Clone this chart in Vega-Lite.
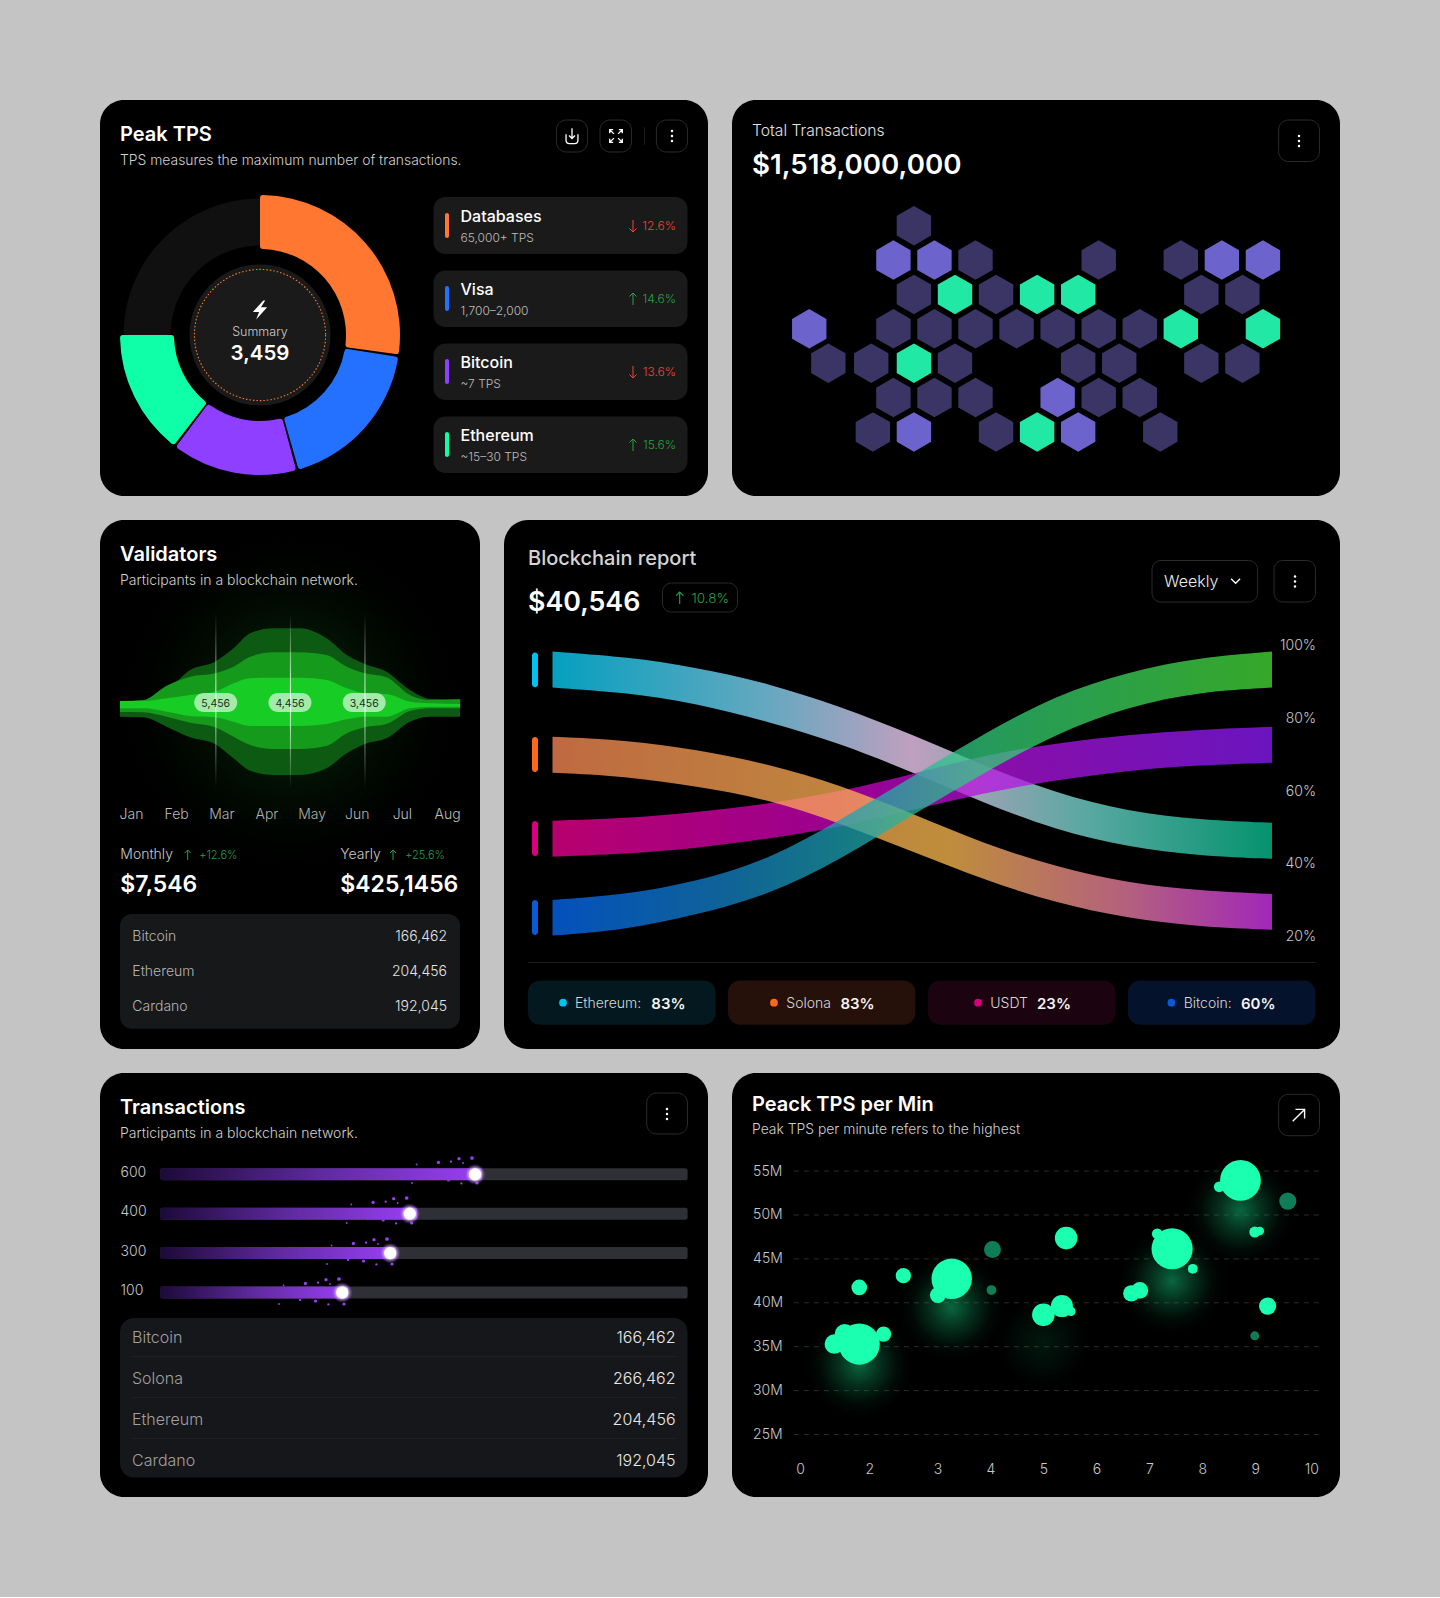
{
"$schema":"https://vega.github.io/schema/vega-lite/v6.json",
"background":"#c4c4c4",
"padding":{"left":100,"top":100,"right":100,"bottom":100},
"spacing":24,
"resolve":{"scale":{"color":"independent","size":"independent","theta":"independent","radius":"independent"}},
"config":{"view":{"stroke":null},"font":"Inter","text":{"baseline":"alphabetic","align":"left","font":"Inter"},"point":{"opacity":1},"circle":{"opacity":1},
"axis":{"grid":false,"domain":false,"ticks":false,"title":null,"labelFont":"Inter","labelFontWeight":400}},
"vconcat":[
{"resolve":{"scale":{"color":"independent","size":"independent","theta":"independent","radius":"independent"}},"hconcat":[
{"width":608,"height":396,"view":{"fill":"#000","cornerRadius":24,"stroke":null},
"encoding":{"x":{"field":"gx","type":"quantitative","scale":{"domain":[0,608]},"axis":null},"y":{"field":"gy","type":"quantitative","scale":{"domain":[396,0]},"axis":null}},
"layer":[
{"data":{"values":[
{"segment":"Track","gx":160,"gy":235,"start":270,"end":360,"outer":136.5,"inner":89.5},
{"segment":"Databases","gx":160,"gy":235,"start":0,"end":98,"outer":140,"inner":86},
{"segment":"Visa","gx":160,"gy":235,"start":99,"end":164,"outer":140,"inner":86},
{"segment":"Bitcoin","gx":160,"gy":235,"start":165,"end":217,"outer":140,"inner":86},
{"segment":"Ethereum","gx":160,"gy":235,"start":218,"end":270,"outer":140,"inner":86}]},
"mark":{"type":"arc","cornerRadius":3},
"encoding":{"theta":{"field":"start","type":"quantitative","stack":null,"scale":{"domain":[0,360],"range":[0,6.2832]}},"theta2":{"field":"end"},
"radius":{"field":"outer","type":"quantitative","scale":{"type":"linear","domain":[0,140],"range":[0,140]}},"radius2":{"field":"inner"},
"color":{"field":"segment","type":"nominal","legend":null,"scale":{"domain":["Track","Databases","Visa","Bitcoin","Ethereum"],"range":["#101010","#ff7730","#2470ff","#8f3fff","#0effa8"]}}}},
{"data":{"values":[{"gx":160,"gy":235}]},"mark":{"type":"point","shape":"circle","filled":true,"fill":"#1a1a1a","stroke":null,"size":19881}},
{"data":{"values":[{"gx":160,"gy":235}]},"mark":{"type":"point","shape":"circle","filled":false,"stroke":"#ff7a30","strokeWidth":1.1,"strokeDash":[1.5,2],"size":17213}},
{"data":{"values":[{"gx":160,"gy":210}]},"mark":{"type":"point","filled":true,"fill":"#fff","stroke":null,"size":361,"shape":"M0.35,-1 L-0.75,0.2 L-0.1,0.2 L-0.4,1 L0.75,-0.3 L0.1,-0.3 L0.55,-1 Z"}},
{"data":{"values":[{"t":"Summary","gx":160,"gy":235.7}]},"mark":{"type":"text","align":"center","fontSize":12.5,"color":"#cfcfcf","fontWeight":300},"encoding":{"text":{"field":"t"}}},
{"data":{"values":[{"t":"3,459","gx":160,"gy":260}]},"mark":{"type":"text","align":"center","fontSize":20.5,"fontWeight":600,"color":"#fff"},"encoding":{"text":{"field":"t"}}},
{"data":{"values":[{"t":"Peak TPS","gx":20,"gy":40.7}]},"mark":{"type":"text","fontSize":20,"fontWeight":600,"color":"#fff"},"encoding":{"text":{"field":"t"}}},
{"data":{"values":[{"t":"TPS measures the maximum number of transactions.","gx":20,"gy":65}]},"mark":{"type":"text","fontSize":13.9,"fontWeight":300,"color":"#d0d0d0"},"encoding":{"text":{"field":"t"}}},
{"data":{"values":[{"gx":456.4,"gx2":487.5,"gy":20,"gy2":52},{"gx":500,"gx2":531.5,"gy":20,"gy2":52},{"gx":556.4,"gx2":587.5,"gy":20,"gy2":52}]},"mark":{"type":"rect","fill":"#000","stroke":"#2a2a2a","strokeWidth":1,"cornerRadius":10},"encoding":{"x2":{"field":"gx2"},"y2":{"field":"gy2"}}},
{"data":{"values":[{"gx":544,"gx2":544.8,"gy":27,"gy2":45}]},"mark":{"type":"rect","fill":"#222"},"encoding":{"x2":{"field":"gx2"},"y2":{"field":"gy2"}}},
{"data":{"values":[{"gx":472,"gy":36}]},"mark":{"type":"point","filled":false,"stroke":"#fff","strokeWidth":1.3,"size":289,"shape":"M-0.7,-0.2 L-0.7,0.5 Q-0.7,0.9 -0.3,0.9 L0.3,0.9 Q0.7,0.9 0.7,0.5 L0.7,-0.2 M0,-0.9 L0,0.3 M-0.35,-0.05 L0,0.3 L0.35,-0.05"}},
{"data":{"values":[{"gx":516,"gy":36}]},"mark":{"type":"point","filled":false,"stroke":"#fff","strokeWidth":1.3,"size":196,"shape":"M-0.9,-0.4 L-0.9,-0.9 L-0.4,-0.9 M-0.9,-0.9 L-0.3,-0.3 M0.9,-0.4 L0.9,-0.9 L0.4,-0.9 M0.9,-0.9 L0.3,-0.3 M-0.9,0.4 L-0.9,0.9 L-0.4,0.9 M-0.9,0.9 L-0.3,0.3 M0.9,0.4 L0.9,0.9 L0.4,0.9 M0.9,0.9 L0.3,0.3"}},
{"data":{"values":[{"gx":572,"gy":31},{"gx":572,"gy":36},{"gx":572,"gy":41}]},"mark":{"type":"point","shape":"circle","filled":true,"fill":"#fff","stroke":null,"size":6}},
{"data":{"values":[{"gx":333.5,"gx2":587.5,"gy":97,"gy2":154},{"gx":333.5,"gx2":587.5,"gy":170.5,"gy2":227},{"gx":333.5,"gx2":587.5,"gy":243.5,"gy2":300},{"gx":333.5,"gx2":587.5,"gy":316.5,"gy2":373}]},"mark":{"type":"rect","fill":"#1a1a1a","cornerRadius":12},"encoding":{"x2":{"field":"gx2"},"y2":{"field":"gy2"}}},
{"data":{"values":[{"segment":"Databases","gx":345,"gx2":349,"gy":113,"gy2":138},{"segment":"Visa","gx":345,"gx2":349,"gy":186,"gy2":211},{"segment":"Bitcoin","gx":345,"gx2":349,"gy":259,"gy2":284},{"segment":"Ethereum","gx":345,"gx2":349,"gy":332,"gy2":357}]},"mark":{"type":"rect","cornerRadius":2},"encoding":{"x2":{"field":"gx2"},"y2":{"field":"gy2"},"color":{"field":"segment","type":"nominal","legend":null,"scale":{"domain":["Track","Databases","Visa","Bitcoin","Ethereum"],"range":["#101010","#ff7730","#2470ff","#8f3fff","#0effa8"]}}}},
{"data":{"values":[{"t":"Databases","gx":360.5,"gy":121.7},{"t":"Visa","gx":360.5,"gy":194.7},{"t":"Bitcoin","gx":360.5,"gy":267.7},{"t":"Ethereum","gx":360.5,"gy":340.7}]},"mark":{"type":"text","fontSize":16,"fontWeight":500,"color":"#fff"},"encoding":{"text":{"field":"t"}}},
{"data":{"values":[{"t":"65,000+ TPS","gx":360.5,"gy":141.7},{"t":"1,700–2,000","gx":360.5,"gy":214.7},{"t":"~7 TPS","gx":360.5,"gy":287.7},{"t":"~15–30 TPS","gx":360.5,"gy":360.7}]},"mark":{"type":"text","fontSize":12,"fontWeight":300,"color":"#bdbdbd"},"encoding":{"text":{"field":"t"}}},
{"data":{"values":[{"t":"12.6%","gx":576,"gy":130},{"t":"13.6%","gx":576,"gy":276}]},"mark":{"type":"text","align":"right","fontSize":12,"fontWeight":300,"color":"#f0453a"},"encoding":{"text":{"field":"t"}}},
{"data":{"values":[{"t":"14.6%","gx":576,"gy":203},{"t":"15.6%","gx":576,"gy":349}]},"mark":{"type":"text","align":"right","fontSize":12,"fontWeight":300,"color":"#26a146"},"encoding":{"text":{"field":"t"}}},
{"data":{"values":[{"gx":533,"gy":126},{"gx":533,"gy":272}]},"mark":{"type":"point","filled":false,"stroke":"#f0453a","strokeWidth":1,"size":144,"shape":"M0,-1 L0,1 M-0.6,0.4 L0,1 L0.6,0.4"}},
{"data":{"values":[{"gx":533,"gy":199},{"gx":533,"gy":345}]},"mark":{"type":"point","filled":false,"stroke":"#26a146","strokeWidth":1,"size":144,"shape":"M0,1 L0,-1 M-0.6,-0.4 L0,-1 L0.6,-0.4"}}
]},
{"width":608,"height":396,"view":{"fill":"#000","cornerRadius":24,"stroke":null},"resolve":{"scale":{"x":"independent","y":"independent"}},
"layer":[
{"encoding":{"x":{"field":"gx","type":"quantitative","scale":{"domain":[0,608]},"axis":null},"y":{"field":"gy","type":"quantitative","scale":{"domain":[396,0]},"axis":null}},
"layer":[
{"data":{"values":[{"t":"Total Transactions","gx":20,"gy":35.7}]},"mark":{"type":"text","fontSize":15.7,"fontWeight":300,"color":"#e0e0e0"},"encoding":{"text":{"field":"t"}}},
{"data":{"values":[{"t":"$1,518,000,000","gx":20,"gy":73.5}]},"mark":{"type":"text","fontSize":27.7,"fontWeight":600,"color":"#fff"},"encoding":{"text":{"field":"t"}}},
{"data":{"values":[{"gx":546.6,"gx2":587.5,"gy":20,"gy2":61.5}]},"mark":{"type":"rect","fill":"#000","stroke":"#2a2a2a","strokeWidth":1,"cornerRadius":10},"encoding":{"x2":{"field":"gx2"},"y2":{"field":"gy2"}}},
{"data":{"values":[{"gx":567,"gy":36},{"gx":567,"gy":41},{"gx":567,"gy":46}]},"mark":{"type":"point","shape":"circle","filled":true,"fill":"#fff","stroke":null,"size":6}}
]},
{"data":{"values":[
{"col":1,"row":0,"state":"idle"},
{"col":0,"row":1,"state":"active"},{"col":2,"row":1,"state":"active"},{"col":4,"row":1,"state":"idle"},{"col":10,"row":1,"state":"idle"},{"col":14,"row":1,"state":"idle"},{"col":16,"row":1,"state":"active"},{"col":18,"row":1,"state":"active"},
{"col":1,"row":2,"state":"idle"},{"col":3,"row":2,"state":"peak"},{"col":5,"row":2,"state":"idle"},{"col":7,"row":2,"state":"peak"},{"col":9,"row":2,"state":"peak"},{"col":15,"row":2,"state":"idle"},{"col":17,"row":2,"state":"idle"},
{"col":-4.1,"row":3,"state":"active"},{"col":0,"row":3,"state":"idle"},{"col":2,"row":3,"state":"idle"},{"col":4,"row":3,"state":"idle"},{"col":6,"row":3,"state":"idle"},{"col":8,"row":3,"state":"idle"},{"col":10,"row":3,"state":"idle"},{"col":12,"row":3,"state":"idle"},{"col":14,"row":3,"state":"peak"},{"col":18,"row":3,"state":"peak"},
{"col":-3.17,"row":4,"state":"idle"},{"col":-1.08,"row":4,"state":"idle"},{"col":1,"row":4,"state":"peak"},{"col":3,"row":4,"state":"idle"},{"col":9,"row":4,"state":"idle"},{"col":11,"row":4,"state":"idle"},{"col":15,"row":4,"state":"idle"},{"col":17,"row":4,"state":"idle"},
{"col":0,"row":5,"state":"idle"},{"col":2,"row":5,"state":"idle"},{"col":4,"row":5,"state":"idle"},{"col":8,"row":5,"state":"active"},{"col":10,"row":5,"state":"idle"},{"col":12,"row":5,"state":"idle"},
{"col":-1,"row":6,"state":"idle"},{"col":1,"row":6,"state":"active"},{"col":5,"row":6,"state":"idle"},{"col":7,"row":6,"state":"peak"},{"col":9,"row":6,"state":"active"},{"col":13,"row":6,"state":"idle"}]},
"mark":{"type":"point","filled":true,"stroke":null,"size":1552,"shape":"M0,-1 L0.873,-0.5 L0.873,0.5 L0,1 L-0.873,0.5 L-0.873,-0.5 Z"},
"encoding":{"x":{"field":"col","type":"quantitative","scale":{"domain":[-7.862,21.754]},"axis":null},"y":{"field":"row","type":"quantitative","scale":{"domain":[7.864,-3.657]},"axis":null},
"color":{"field":"state","type":"nominal","legend":null,"scale":{"domain":["idle","active","peak"],"range":["#3a3565","#6c63cc","#22e8a5"]}}}}
]}
],"spacing":24},
{"resolve":{"scale":{"color":"independent","size":"independent","theta":"independent","radius":"independent"}},"hconcat":[
{"width":380,"height":529,"view":{"fill":"#000","cornerRadius":24,"stroke":null},"resolve":{"scale":{"x":"independent","y":"independent"}},
"layer":[
{"encoding":{"x":{"field":"gx","type":"quantitative","scale":{"domain":[0,380]},"axis":null},"y":{"field":"gy","type":"quantitative","scale":{"domain":[529,0]},"axis":null}},
"layer":[
{"data":{"values":[{"gx":190,"gy":182}]},"mark":{"type":"point","shape":"circle","filled":true,"stroke":null,"size":108900,"fill":{"gradient":"radial","x1":0.5,"y1":0.5,"r1":0,"x2":0.5,"y2":0.5,"r2":0.5,"stops":[{"offset":0,"color":"rgba(20,130,30,0.42)"},{"offset":0.5,"color":"rgba(15,95,20,0.16)"},{"offset":1,"color":"rgba(0,40,0,0)"}]}}},
{"data":{"values":[{"t":"Validators","gx":20,"gy":40.7}]},"mark":{"type":"text","fontSize":20,"fontWeight":600,"color":"#fff"},"encoding":{"text":{"field":"t"}}},
{"data":{"values":[{"t":"Participants in a blockchain network.","gx":20,"gy":65}]},"mark":{"type":"text","fontSize":14,"fontWeight":300,"color":"#d0d0d0"},"encoding":{"text":{"field":"t"}}},
{"data":{"values":[{"t":"Monthly","gx":20.3,"gy":339},{"t":"Yearly","gx":240.3,"gy":339}]},"mark":{"type":"text","fontSize":14,"fontWeight":300,"color":"#c8c8c8"},"encoding":{"text":{"field":"t"}}},
{"data":{"values":[{"t":"+12.6%","gx":99.3,"gy":339},{"t":"+25.6%","gx":305.3,"gy":339}]},"mark":{"type":"text","fontSize":11,"fontWeight":300,"color":"#26a146"},"encoding":{"text":{"field":"t"}}},
{"data":{"values":[{"gx":87.7,"gy":335},{"gx":293,"gy":335}]},"mark":{"type":"point","filled":false,"stroke":"#26a146","strokeWidth":1,"size":100,"shape":"M0,1 L0,-1 M-0.6,-0.4 L0,-1 L0.6,-0.4"}},
{"data":{"values":[{"t":"$7,546","gx":20.3,"gy":371.7},{"t":"$425,1456","gx":240.3,"gy":371.7}]},"mark":{"type":"text","fontSize":23,"fontWeight":600,"color":"#fff"},"encoding":{"text":{"field":"t"}}},
{"data":{"values":[{"gx":20,"gx2":360,"gy":394,"gy2":508.7}]},"mark":{"type":"rect","fill":"#17181a","cornerRadius":12},"encoding":{"x2":{"field":"gx2"},"y2":{"field":"gy2"}}},
{"data":{"values":[{"t":"Bitcoin","gx":32.3,"gy":421},{"t":"Ethereum","gx":32.3,"gy":456},{"t":"Cardano","gx":32.3,"gy":491}]},"mark":{"type":"text","fontSize":14,"fontWeight":300,"color":"#b5b5b5"},"encoding":{"text":{"field":"t"}}},
{"data":{"values":[{"t":"166,462","gx":347,"gy":421},{"t":"204,456","gx":347,"gy":456},{"t":"192,045","gx":347,"gy":491}]},"mark":{"type":"text","align":"right","fontSize":14,"fontWeight":300,"color":"#e4e4e4"},"encoding":{"text":{"field":"t"}}}
]},
{"encoding":{"x":{"field":"month","type":"quantitative","scale":{"domain":[0.313,8.731]},"axis":{"orient":"bottom","offset":-235,"values":[1,2,3,4,5,6,7,8],"labelExpr":"['Jan','Feb','Mar','Apr','May','Jun','Jul','Aug'][datum.value-1]","labelFontSize":14,"labelFontWeight":300,"labelColor":"#bdbdbd","labelPadding":0,"labelBaseline":"middle"}}},
"layer":[
{"data":{"values":[
{"band":"Outer","month":0.756,"high":181,"low":196.7},{"band":"Outer","month":1.27,"high":180.7,"low":197.3},{"band":"Outer","month":1.79,"high":170.7,"low":206.7},{"band":"Outer","month":2.31,"high":150,"low":217.3},{"band":"Outer","month":2.86,"high":141.7,"low":224},{"band":"Outer","month":3.27,"high":128.3,"low":238.3},{"band":"Outer","month":3.64,"high":113.3,"low":250.7},{"band":"Outer","month":4.15,"high":108.3,"low":255},{"band":"Outer","month":4.74,"high":108.3,"low":255},{"band":"Outer","month":5.33,"high":118.3,"low":248.3},{"band":"Outer","month":5.78,"high":135,"low":233.3},{"band":"Outer","month":6.18,"high":144,"low":224},{"band":"Outer","month":6.66,"high":151.7,"low":218.3},{"band":"Outer","month":7.18,"high":170,"low":201.7},{"band":"Outer","month":7.62,"high":178.7,"low":196.7},{"band":"Outer","month":8.29,"high":179.3,"low":196.7},
{"band":"Middle","month":0.756,"high":181,"low":192},{"band":"Middle","month":1.27,"high":180,"low":192.3},{"band":"Middle","month":1.79,"high":165.7,"low":196.7},{"band":"Middle","month":2.31,"high":156.7,"low":202.7},{"band":"Middle","month":2.86,"high":153.3,"low":207.3},{"band":"Middle","month":3.27,"high":146.7,"low":216.7},{"band":"Middle","month":3.64,"high":136.7,"low":225},{"band":"Middle","month":4.15,"high":132.3,"low":229},{"band":"Middle","month":4.74,"high":132.3,"low":229},{"band":"Middle","month":5.33,"high":135,"low":226},{"band":"Middle","month":5.78,"high":146.7,"low":213.3},{"band":"Middle","month":6.18,"high":153.3,"low":207.3},{"band":"Middle","month":6.66,"high":157.3,"low":204},{"band":"Middle","month":7.18,"high":175,"low":191},{"band":"Middle","month":7.62,"high":180,"low":188.3},{"band":"Middle","month":8.29,"high":179.3,"low":188.3},
{"band":"Core","month":0.756,"high":181,"low":188.3},{"band":"Core","month":1.27,"high":181,"low":188.3},{"band":"Core","month":1.79,"high":178.3,"low":191.7},{"band":"Core","month":2.31,"high":175,"low":196},{"band":"Core","month":2.86,"high":171.7,"low":197.3},{"band":"Core","month":3.27,"high":163.3,"low":201.7},{"band":"Core","month":3.64,"high":158.3,"low":206},{"band":"Core","month":4.15,"high":157.7,"low":206},{"band":"Core","month":4.74,"high":157.7,"low":206},{"band":"Core","month":5.33,"high":160,"low":204},{"band":"Core","month":5.78,"high":168.3,"low":199.3},{"band":"Core","month":6.18,"high":173.3,"low":196.7},{"band":"Core","month":6.66,"high":174,"low":196.7},{"band":"Core","month":7.18,"high":181.7,"low":188.3},{"band":"Core","month":7.62,"high":183.3,"low":186.7},{"band":"Core","month":8.29,"high":184,"low":186.7}]},
"mark":{"type":"area","interpolate":"monotone","opacity":1},
"encoding":{"y":{"field":"high","type":"quantitative","stack":null,"scale":{"domain":[529,0]},"axis":null},"y2":{"field":"low"},
"color":{"field":"band","type":"nominal","legend":null,"scale":{"domain":["Outer","Middle","Core"],"range":["#0d5a12","#159a1c","#18cc26"]}}}},
{"data":{"values":[{"month":2.86,"monthEnd":2.895,"gy":93,"gy2":268},{"month":6.165,"monthEnd":6.2,"gy":93,"gy2":268}]},
"mark":{"type":"rect","fill":{"gradient":"linear","x1":0,"y1":0,"x2":0,"y2":1,"stops":[{"offset":0,"color":"rgba(255,255,255,0)"},{"offset":0.5,"color":"rgba(255,255,255,0.6)"},{"offset":1,"color":"rgba(255,255,255,0)"}]}},
"encoding":{"x2":{"field":"monthEnd"},"y":{"field":"gy","type":"quantitative","scale":{"domain":[529,0]},"axis":null},"y2":{"field":"gy2"}}},
{"data":{"values":[{"month":4.52,"monthEnd":4.545,"gy":93,"gy2":268}]},
"mark":{"type":"rect","fill":{"gradient":"linear","x1":0,"y1":0,"x2":0,"y2":1,"stops":[{"offset":0,"color":"rgba(255,255,255,0)"},{"offset":0.5,"color":"rgba(255,255,255,0.95)"},{"offset":1,"color":"rgba(255,255,255,0)"}]}},
"encoding":{"x2":{"field":"monthEnd"},"y":{"field":"gy","type":"quantitative","scale":{"domain":[529,0]},"axis":null},"y2":{"field":"gy2"}}},
{"data":{"values":[{"month":2.4,"monthEnd":3.352,"gy":173,"gy2":192},{"month":4.045,"monthEnd":4.997,"gy":173,"gy2":192},{"month":5.69,"monthEnd":6.642,"gy":173,"gy2":192}]},
"mark":{"type":"rect","fill":"rgba(255,255,255,0.6)","cornerRadius":9.5},
"encoding":{"x2":{"field":"monthEnd"},"y":{"field":"gy","type":"quantitative","scale":{"domain":[529,0]},"axis":null},"y2":{"field":"gy2"}}},
{"data":{"values":[{"t":"5,456","month":2.876,"gy":186.5},{"t":"4,456","month":4.521,"gy":186.5},{"t":"3,456","month":6.166,"gy":186.5}]},
"mark":{"type":"text","align":"center","fontSize":10.5,"fontWeight":400,"color":"#1d2b1f"},
"encoding":{"y":{"field":"gy","type":"quantitative","scale":{"domain":[529,0]},"axis":null},"text":{"field":"t"}}}
]}
]},
{"width":836,"height":529,"view":{"fill":"#000","cornerRadius":24,"stroke":null},"resolve":{"scale":{"x":"independent","y":"independent"}},
"layer":[
{"encoding":{"x":{"field":"gx","type":"quantitative","scale":{"domain":[0,836]},"axis":null},"y":{"field":"gy","type":"quantitative","scale":{"domain":[529,0]},"axis":null}},
"layer":[
{"data":{"values":[{"t":"Blockchain report","gx":24,"gy":44.7}]},"mark":{"type":"text","fontSize":20,"fontWeight":500,"color":"#d4d4d4"},"encoding":{"text":{"field":"t"}}},
{"data":{"values":[{"t":"$40,546","gx":24,"gy":90.6}]},"mark":{"type":"text","fontSize":26.8,"fontWeight":600,"color":"#fff"},"encoding":{"text":{"field":"t"}}},
{"data":{"values":[{"gx":158.5,"gx2":233.5,"gy":63,"gy2":92},{"gx":648,"gx2":753.6,"gy":40.5,"gy2":82},{"gx":770,"gx2":811.5,"gy":40.5,"gy2":82}]},"mark":{"type":"rect","fill":"#000","stroke":"#2a2a2a","strokeWidth":1,"cornerRadius":9},"encoding":{"x2":{"field":"gx2"},"y2":{"field":"gy2"}}},
{"data":{"values":[{"t":"10.8%","gx":187.5,"gy":83}]},"mark":{"type":"text","fontSize":13.5,"fontWeight":300,"color":"#26a146"},"encoding":{"text":{"field":"t"}}},
{"data":{"values":[{"gx":175.7,"gy":78}]},"mark":{"type":"point","filled":false,"stroke":"#26a146","strokeWidth":1.1,"size":144,"shape":"M0,1 L0,-1 M-0.6,-0.4 L0,-1 L0.6,-0.4"}},
{"data":{"values":[{"t":"Weekly","gx":660,"gy":66.5}]},"mark":{"type":"text","fontSize":16,"fontWeight":300,"color":"#eee"},"encoding":{"text":{"field":"t"}}},
{"data":{"values":[{"gx":731.6,"gy":61}]},"mark":{"type":"point","filled":false,"stroke":"#fff","strokeWidth":1.3,"size":100,"shape":"M-0.9,-0.45 L0,0.45 L0.9,-0.45"}},
{"data":{"values":[{"gx":791,"gy":56.5},{"gx":791,"gy":61.5},{"gx":791,"gy":66.5}]},"mark":{"type":"point","shape":"circle","filled":true,"fill":"#fff","stroke":null,"size":6}},
{"data":{"values":[{"coin":"Ethereum","gx":28,"gx2":34,"gy":132.5,"gy2":167.3},{"coin":"Solona","gx":28,"gx2":34,"gy":217,"gy2":252},{"coin":"USDT","gx":28,"gx2":34,"gy":301,"gy2":336},{"coin":"Bitcoin","gx":28,"gx2":34,"gy":380,"gy2":415}]},"mark":{"type":"rect","cornerRadius":3},"encoding":{"x2":{"field":"gx2"},"y2":{"field":"gy2"},"color":{"field":"coin","type":"nominal","legend":null,"scale":{"domain":["Ethereum","Solona","USDT","Bitcoin"],"range":["#00c2f0","#ff6a1a","#d6007e","#0a5ad6"]}}}},
{"data":{"values":[{"gx":24,"gx2":811.5,"gy":442,"gy2":442.8}]},"mark":{"type":"rect","fill":"#2a2a2a"},"encoding":{"x2":{"field":"gx2"},"y2":{"field":"gy2"}}},
{"data":{"values":[{"gx":24,"gx2":211.6,"gy":460.4,"gy2":504.7}]},"mark":{"type":"rect","cornerRadius":12,"fill":"#03191f"},"encoding":{"x2":{"field":"gx2"},"y2":{"field":"gy2"}}},
{"data":{"values":[{"gx":224,"gx2":411.4,"gy":460.4,"gy2":504.7}]},"mark":{"type":"rect","cornerRadius":12,"fill":"#26100a"},"encoding":{"x2":{"field":"gx2"},"y2":{"field":"gy2"}}},
{"data":{"values":[{"gx":424,"gx2":611.7,"gy":460.4,"gy2":504.7}]},"mark":{"type":"rect","cornerRadius":12,"fill":"#1b0310"},"encoding":{"x2":{"field":"gx2"},"y2":{"field":"gy2"}}},
{"data":{"values":[{"gx":624,"gx2":811.5,"gy":460.4,"gy2":504.7}]},"mark":{"type":"rect","cornerRadius":12,"fill":"#04132b"},"encoding":{"x2":{"field":"gx2"},"y2":{"field":"gy2"}}},
{"data":{"values":[{"coin":"Ethereum","gx":59,"gy":482.7},{"coin":"Solona","gx":270,"gy":482.7},{"coin":"USDT","gx":474,"gy":482.7},{"coin":"Bitcoin","gx":667.4,"gy":482.7}]},"mark":{"type":"point","shape":"circle","filled":true,"stroke":null,"size":60},"encoding":{"color":{"field":"coin","type":"nominal","legend":null,"scale":{"domain":["Ethereum","Solona","USDT","Bitcoin"],"range":["#00c2f0","#ff6a1a","#ff0090","#1a70e6"]}}}},
{"data":{"values":[{"t":"Ethereum:","gx":71,"gy":488},{"t":"Solona","gx":282.3,"gy":488},{"t":"USDT","gx":486.3,"gy":488},{"t":"Bitcoin:","gx":679.7,"gy":488}]},"mark":{"type":"text","fontSize":14,"fontWeight":300,"color":"#d8d8d8"},"encoding":{"text":{"field":"t"}}},
{"data":{"values":[{"t":"83%","gx":147.3,"gy":488.5},{"t":"83%","gx":336.4,"gy":488.5},{"t":"23%","gx":533,"gy":488.5},{"t":"60%","gx":737,"gy":488.5}]},"mark":{"type":"text","fontSize":15,"fontWeight":600,"color":"#f4f4f4"},"encoding":{"text":{"field":"t"}}}
]},
{"data":{"values":[
{"coin":"Ethereum","step":0,"hi":98.4,"lo":88.5},{"coin":"Ethereum","step":1,"hi":97,"lo":87.2},{"coin":"Ethereum","step":2,"hi":94.1,"lo":84.2},{"coin":"Ethereum","step":3,"hi":89.7,"lo":79.1},{"coin":"Ethereum","step":4,"hi":83.3,"lo":73.2},{"coin":"Ethereum","step":5,"hi":75.6,"lo":65.2},{"coin":"Ethereum","step":6,"hi":67,"lo":56.7},{"coin":"Ethereum","step":7,"hi":59.4,"lo":49.3},{"coin":"Ethereum","step":8,"hi":54.4,"lo":44.6},{"coin":"Ethereum","step":9,"hi":52.1,"lo":42.2},{"coin":"Ethereum","step":10,"hi":51.3,"lo":41.4},
{"coin":"Solona","step":0,"hi":75,"lo":65.1},{"coin":"Solona","step":1,"hi":74.1,"lo":64.2},{"coin":"Solona","step":2,"hi":71.5,"lo":61.3},{"coin":"Solona","step":3,"hi":67.5,"lo":57.8},{"coin":"Solona","step":4,"hi":61.7,"lo":51.2},{"coin":"Solona","step":5,"hi":53.9,"lo":43.4},{"coin":"Solona","step":6,"hi":45.5,"lo":35.6},{"coin":"Solona","step":7,"hi":39.2,"lo":29.2},{"coin":"Solona","step":8,"hi":34.7,"lo":25},{"coin":"Solona","step":9,"hi":32.6,"lo":22.7},{"coin":"Solona","step":10,"hi":31.7,"lo":21.9},
{"coin":"USDT","step":0,"hi":51.9,"lo":42},{"coin":"USDT","step":1,"hi":52.5,"lo":42.7},{"coin":"USDT","step":2,"hi":54.2,"lo":44.3},{"coin":"USDT","step":3,"hi":56.5,"lo":46.9},{"coin":"USDT","step":4,"hi":59.9,"lo":50.1},{"coin":"USDT","step":5,"hi":64.6,"lo":54.8},{"coin":"USDT","step":6,"hi":70,"lo":59.6},{"coin":"USDT","step":7,"hi":73.2,"lo":63.1},{"coin":"USDT","step":8,"hi":75.5,"lo":65.7},{"coin":"USDT","step":9,"hi":77,"lo":67.2},{"coin":"USDT","step":10,"hi":77.7,"lo":67.8},
{"coin":"Bitcoin","step":0,"hi":30.1,"lo":20.3},{"coin":"Bitcoin","step":1,"hi":31.5,"lo":21.8},{"coin":"Bitcoin","step":2,"hi":35.1,"lo":26},{"coin":"Bitcoin","step":3,"hi":41.1,"lo":31.4},{"coin":"Bitcoin","step":4,"hi":52.1,"lo":41.1},{"coin":"Bitcoin","step":5,"hi":64,"lo":53.5},{"coin":"Bitcoin","step":6,"hi":75.9,"lo":65.1},{"coin":"Bitcoin","step":7,"hi":86.5,"lo":75.9},{"coin":"Bitcoin","step":8,"hi":92.9,"lo":83.3},{"coin":"Bitcoin","step":9,"hi":96.8,"lo":87.4},{"coin":"Bitcoin","step":10,"hi":98.4,"lo":88.5}]},
"encoding":{"x":{"field":"step","type":"quantitative","scale":{"domain":[-0.674,10.945]},"axis":null},
"y":{"field":"hi","type":"quantitative","stack":null,"scale":{"domain":[-10.9,134.6]},"axis":{"orient":"right","offset":-24.5,"values":[100,80,60,40,20],"labelExpr":"datum.value+'%'","labelAlign":"right","labelPadding":0,"labelFontSize":14,"labelFontWeight":300,"labelColor":"#c8c8c8"}},
"y2":{"field":"lo"}},
"layer":[
{"transform":[{"filter":"datum.coin=='Ethereum'"}],"mark":{"type":"area","interpolate":"basis","opacity":0.75,"fill":{"gradient":"linear","x1":0,"y1":0,"x2":1,"y2":0,"stops":[{"offset":0,"color":"#07d5ff"},{"offset":0.3,"color":"#88e0ff"},{"offset":0.5,"color":"#ffd5ff"},{"offset":0.75,"color":"#73e0d5"},{"offset":1,"color":"#07c393"}]}}},
{"transform":[{"filter":"datum.coin=='USDT'"}],"mark":{"type":"area","interpolate":"basis","opacity":0.75,"fill":{"gradient":"linear","x1":0,"y1":0,"x2":1,"y2":0,"stops":[{"offset":0,"color":"#f50093"},{"offset":0.4,"color":"#cd00c0"},{"offset":0.6,"color":"#b813e0"},{"offset":1,"color":"#8d1bff"}]}}},
{"transform":[{"filter":"datum.coin=='Solona'"}],"mark":{"type":"area","interpolate":"basis","opacity":0.75,"fill":{"gradient":"linear","x1":0,"y1":0,"x2":1,"y2":0,"stops":[{"offset":0,"color":"#ff8d58"},{"offset":0.3,"color":"#ffa954"},{"offset":0.55,"color":"#ffbc50"},{"offset":0.8,"color":"#ef80a8"},{"offset":1,"color":"#d835f5"}]}}},
{"transform":[{"filter":"datum.coin=='Bitcoin'"}],"mark":{"type":"area","interpolate":"basis","opacity":0.75,"fill":{"gradient":"linear","x1":0,"y1":0,"x2":1,"y2":0,"stops":[{"offset":0,"color":"#056bfb"},{"offset":0.25,"color":"#1485c8"},{"offset":0.45,"color":"#20abab"},{"offset":0.6,"color":"#31cd7b"},{"offset":1,"color":"#47e038"}]}}}
]}
]}
],"spacing":24},
{"resolve":{"scale":{"color":"independent","size":"independent","theta":"independent","radius":"independent"}},"hconcat":[
{"width":608,"height":424,"view":{"fill":"#000","cornerRadius":24,"stroke":null},"resolve":{"scale":{"x":"independent","y":"independent"}},
"layer":[
{"encoding":{"x":{"field":"gx","type":"quantitative","scale":{"domain":[0,608]},"axis":null},"y":{"field":"gy","type":"quantitative","scale":{"domain":[424,0]},"axis":null}},
"layer":[
{"data":{"values":[{"t":"Transactions","gx":20,"gy":40.7}]},"mark":{"type":"text","fontSize":20,"fontWeight":600,"color":"#fff"},"encoding":{"text":{"field":"t"}}},
{"data":{"values":[{"t":"Participants in a blockchain network.","gx":20,"gy":65}]},"mark":{"type":"text","fontSize":14,"fontWeight":300,"color":"#d0d0d0"},"encoding":{"text":{"field":"t"}}},
{"data":{"values":[{"gx":546.7,"gx2":587.5,"gy":20,"gy2":61}]},"mark":{"type":"rect","fill":"#000","stroke":"#2a2a2a","strokeWidth":1,"cornerRadius":10},"encoding":{"x2":{"field":"gx2"},"y2":{"field":"gy2"}}},
{"data":{"values":[{"gx":567,"gy":36},{"gx":567,"gy":41},{"gx":567,"gy":46}]},"mark":{"type":"point","shape":"circle","filled":true,"fill":"#fff","stroke":null,"size":6}},
{"data":{"values":[{"gx":20,"gx2":587.5,"gy":245,"gy2":404.4}]},"mark":{"type":"rect","fill":"#16171a","cornerRadius":14},"encoding":{"x2":{"field":"gx2"},"y2":{"field":"gy2"}}},
{"data":{"values":[{"gx":32,"gx2":576,"gy":283,"gy2":283.7},{"gx":32,"gx2":576,"gy":324,"gy2":324.7},{"gx":32,"gx2":576,"gy":365,"gy2":365.7}]},"mark":{"type":"rect","fill":"#232428"},"encoding":{"x2":{"field":"gx2"},"y2":{"field":"gy2"}}},
{"data":{"values":[{"t":"Bitcoin","gx":32,"gy":270},{"t":"Solona","gx":32,"gy":311},{"t":"Ethereum","gx":32,"gy":352},{"t":"Cardano","gx":32,"gy":393}]},"mark":{"type":"text","fontSize":16,"fontWeight":300,"color":"#a0a0a0"},"encoding":{"text":{"field":"t"}}},
{"data":{"values":[{"t":"166,462","gx":575.5,"gy":270},{"t":"266,462","gx":575.5,"gy":311},{"t":"204,456","gx":575.5,"gy":352},{"t":"192,045","gx":575.5,"gy":393}]},"mark":{"type":"text","align":"right","fontSize":16,"fontWeight":300,"color":"#e8e8e8"},"encoding":{"text":{"field":"t"}}},
{"data":{"values":[
{"gx":372,"gy":85,"m":4},{"gx":359,"gy":85.7,"m":3},{"gx":351,"gy":88.7,"m":1.5},{"gx":338.4,"gy":89.4,"m":3},{"gx":316.6,"gy":91.4,"m":1},{"gx":363,"gy":90,"m":1},{"gx":377,"gy":110,"m":3},{"gx":361.4,"gy":110.4,"m":1.5},{"gx":348.5,"gy":107,"m":3},{"gx":333,"gy":106,"m":1.5},{"gx":312,"gy":110,"m":1},
{"gx":306.7,"gy":125,"m":4},{"gx":293.7,"gy":125.7,"m":3},{"gx":285.7,"gy":128.7,"m":1.5},{"gx":273.1,"gy":129.4,"m":3},{"gx":251.3,"gy":131.4,"m":1},{"gx":297.7,"gy":130,"m":1},{"gx":311.7,"gy":150,"m":3},{"gx":296.1,"gy":150.4,"m":1.5},{"gx":283.2,"gy":147,"m":3},{"gx":267.7,"gy":146,"m":1.5},{"gx":246.7,"gy":150,"m":1},
{"gx":287,"gy":166,"m":4},{"gx":274,"gy":166.7,"m":3},{"gx":266,"gy":169.7,"m":1.5},{"gx":253.4,"gy":170.4,"m":3},{"gx":231.6,"gy":172.4,"m":1},{"gx":278,"gy":171,"m":1},{"gx":292,"gy":191,"m":3},{"gx":276.4,"gy":191.4,"m":1.5},{"gx":263.5,"gy":188,"m":3},{"gx":248,"gy":187,"m":1.5},{"gx":227,"gy":191,"m":1},
{"gx":239,"gy":206,"m":4},{"gx":226,"gy":206.7,"m":3},{"gx":218,"gy":209.7,"m":1.5},{"gx":205.4,"gy":210.4,"m":3},{"gx":183.6,"gy":212.4,"m":1},{"gx":230,"gy":211,"m":1},{"gx":244,"gy":231,"m":3},{"gx":228.4,"gy":231.4,"m":1.5},{"gx":215.5,"gy":228,"m":3},{"gx":200,"gy":227,"m":1.5},{"gx":179,"gy":231,"m":1}]},
"mark":{"type":"point","shape":"circle","filled":true,"stroke":null,"fill":"#9a3ff5"},"encoding":{"size":{"field":"m","type":"quantitative","legend":null,"scale":{"domain":[0,4],"range":[0,14]}}}}
]},
{"data":{"values":[{"label":"600","lane":0,"share":61,"knob":59.7,"full":100},{"label":"400","lane":1,"share":48.7,"knob":47.3,"full":100},{"label":"300","lane":2,"share":44.7,"knob":43.6,"full":100},{"label":"100","lane":3,"share":35.6,"knob":34.5,"full":100}]},
"encoding":{"y":{"field":"lane","type":"quantitative","scale":{"domain":[8.066,-2.447]},"axis":{"orient":"left","offset":-20,"values":[0,1,2,3],"labelExpr":"['600','400','300','100'][datum.value]","labelAlign":"left","labelPadding":0,"labelOffset":-2,"labelFontSize":14,"labelFontWeight":300,"labelColor":"#c8c8c8"}}},
"layer":[
{"mark":{"type":"bar","orient":"horizontal","size":12,"cornerRadius":2,"fill":"#2f3036"},"encoding":{"x":{"field":"full","type":"quantitative","stack":null,"scale":{"domain":[-11.44,103.87]},"axis":null}}},
{"mark":{"type":"bar","orient":"horizontal","size":12,"cornerRadius":2,"fill":{"gradient":"linear","x1":0,"y1":0,"x2":1,"y2":0,"stops":[{"offset":0,"color":"#1c0a38"},{"offset":0.5,"color":"#5f2a9e"},{"offset":1,"color":"#9a3ff5"}]}},"encoding":{"x":{"field":"share","type":"quantitative","stack":null,"scale":{"domain":[-11.44,103.87]},"axis":null}}},
{"mark":{"type":"point","shape":"circle","filled":true,"stroke":null,"size":440,"fill":{"gradient":"radial","x1":0.5,"y1":0.5,"r1":0,"x2":0.5,"y2":0.5,"r2":0.5,"stops":[{"offset":0,"color":"rgba(255,255,255,0.9)"},{"offset":0.6,"color":"rgba(235,210,255,0.7)"},{"offset":1,"color":"rgba(154,63,245,0)"}]}},"encoding":{"x":{"field":"knob","type":"quantitative","scale":{"domain":[-11.44,103.87]},"axis":null}}},
{"mark":{"type":"point","shape":"circle","filled":true,"stroke":null,"size":150,"fill":"#fff"},"encoding":{"x":{"field":"knob","type":"quantitative","scale":{"domain":[-11.44,103.87]},"axis":null}}}
]}
]},
{"width":608,"height":424,"view":{"fill":"#000","cornerRadius":24,"stroke":null},"resolve":{"scale":{"x":"independent","y":"independent"}},
"layer":[
{"encoding":{"x":{"field":"gx","type":"quantitative","scale":{"domain":[0,608]},"axis":null},"y":{"field":"gy","type":"quantitative","scale":{"domain":[424,0]},"axis":null}},
"layer":[
{"data":{"values":[{"t":"Peack TPS per  Min","gx":20,"gy":37.7}]},"mark":{"type":"text","fontSize":20,"fontWeight":600,"color":"#fff"},"encoding":{"text":{"field":"t"}}},
{"data":{"values":[{"t":"Peak TPS per minute refers to the highest","gx":20,"gy":61}]},"mark":{"type":"text","fontSize":13.9,"fontWeight":300,"color":"#d0d0d0"},"encoding":{"text":{"field":"t"}}},
{"data":{"values":[{"gx":546.6,"gx2":587.5,"gy":21.3,"gy2":62.7}]},"mark":{"type":"rect","fill":"#000","stroke":"#2a2a2a","strokeWidth":1,"cornerRadius":10},"encoding":{"x2":{"field":"gx2"},"y2":{"field":"gy2"}}},
{"data":{"values":[{"gx":567,"gy":42}]},"mark":{"type":"point","filled":false,"stroke":"#fff","strokeWidth":1.4,"size":196,"shape":"M-0.9,0.9 L0.8,-0.8 M-0.5,-0.8 L0.8,-0.8 L0.8,0.5"}}
]},
{"encoding":{"x":{"field":"minute","type":"quantitative","scale":{"domain":[-1,0,2,3,9,10,10.5],"range":[0,68,137.3,205.4,523.3,579.3,608]},"axis":{"orient":"bottom","offset":-28,"values":[0,2,3,4,5,6,7,8,9,10],"format":"d","labelPadding":0,"labelBaseline":"middle","labelFontSize":14,"labelFontWeight":300,"labelColor":"#c8c8c8"}},
"y":{"field":"tps","type":"quantitative","scale":{"domain":[17.88,66.17]},"axis":{"orient":"left","offset":-20.6,"values":[25,30,35,40,45,50,55],"labelExpr":"datum.value+'M'","labelAlign":"left","labelPadding":0,"labelFontSize":14,"labelFontWeight":300,"labelColor":"#c8c8c8"}}},
"layer":[
{"data":{"values":[{"tps":25,"minute":-0.09,"minuteEnd":10.16},{"tps":30,"minute":-0.09,"minuteEnd":10.16},{"tps":35,"minute":-0.09,"minuteEnd":10.16},{"tps":40,"minute":-0.09,"minuteEnd":10.16},{"tps":45,"minute":-0.09,"minuteEnd":10.16},{"tps":50,"minute":-0.09,"minuteEnd":10.16},{"tps":55,"minute":-0.09,"minuteEnd":10.16}]},"mark":{"type":"rule","stroke":"#2b2b2b","strokeDash":[5,5],"strokeWidth":1},"encoding":{"x2":{"field":"minuteEnd"}}},
{"data":{"values":[{"minute":1.71,"tps":33},{"minute":3.27,"tps":39.5},{"minute":7.43,"tps":42.5},{"minute":8.72,"tps":50.5}]},"mark":{"type":"point","shape":"circle","filled":true,"stroke":null,"size":11000,"fill":{"gradient":"radial","x1":0.5,"y1":0.5,"r1":0,"x2":0.5,"y2":0.5,"r2":0.5,"stops":[{"offset":0,"color":"rgba(16,170,105,0.6)"},{"offset":0.4,"color":"rgba(16,170,105,0.28)"},{"offset":0.75,"color":"rgba(16,170,105,0.06)"},{"offset":1,"color":"rgba(16,170,105,0)"}]}}},
{"data":{"values":[{"minute":5,"tps":35.5}]},"mark":{"type":"point","shape":"circle","filled":true,"stroke":null,"size":8000,"fill":{"gradient":"radial","x1":0.5,"y1":0.5,"r1":0,"x2":0.5,"y2":0.5,"r2":0.5,"stops":[{"offset":0,"color":"rgba(16,170,105,0.14)"},{"offset":1,"color":"rgba(16,170,105,0)"}]}}},
{"data":{"values":[
{"minute":1.71,"tps":35.3,"load":424,"tone":"bright"},{"minute":0.99,"tps":35.3,"load":94,"tone":"bright"},{"minute":1.29,"tps":36.44,"load":100,"tone":"bright"},{"minute":2.21,"tps":36.44,"load":58,"tone":"bright"},{"minute":1.71,"tps":41.75,"load":61,"tone":"bright"},{"minute":2.5,"tps":43.08,"load":58,"tone":"bright"},{"minute":3.27,"tps":42.73,"load":408,"tone":"bright"},{"minute":3.01,"tps":40.88,"load":64,"tone":"bright"},{"minute":4.04,"tps":46.08,"load":72,"tone":"dim"},{"minute":4.02,"tps":41.45,"load":24,"tone":"dim"},{"minute":5.43,"tps":47.37,"load":128,"tone":"bright"},{"minute":5,"tps":38.63,"load":128,"tone":"bright"},{"minute":5.35,"tps":39.62,"load":121,"tone":"bright"},{"minute":5.52,"tps":39.02,"load":22,"tone":"bright"},{"minute":6.66,"tps":41.07,"load":67,"tone":"bright"},{"minute":6.82,"tps":41.41,"load":71,"tone":"bright"},{"minute":7.43,"tps":46.15,"load":424,"tone":"bright"},{"minute":7.15,"tps":47.86,"load":29,"tone":"bright"},{"minute":7.82,"tps":43.87,"load":24,"tone":"bright"},{"minute":8.72,"tps":53.94,"load":416,"tone":"bright"},{"minute":8.32,"tps":53.21,"load":29,"tone":"bright"},{"minute":9.58,"tps":51.58,"load":74,"tone":"dim"},{"minute":8.99,"tps":48.05,"load":30,"tone":"bright"},{"minute":9.08,"tps":48.17,"load":18,"tone":"bright"},{"minute":9.22,"tps":39.62,"load":74,"tone":"bright"},{"minute":8.99,"tps":36.24,"load":20,"tone":"dim"}]},
"mark":{"type":"point","shape":"circle","filled":true,"stroke":null},
"encoding":{"size":{"field":"load","type":"quantitative","legend":null,"scale":{"domain":[0,400],"range":[0,1600]}},"color":{"field":"tone","type":"nominal","legend":null,"scale":{"domain":["bright","dim"],"range":["#1bffb0","#0f7d58"]}}}}
]}
]}
],"spacing":24}
]}
